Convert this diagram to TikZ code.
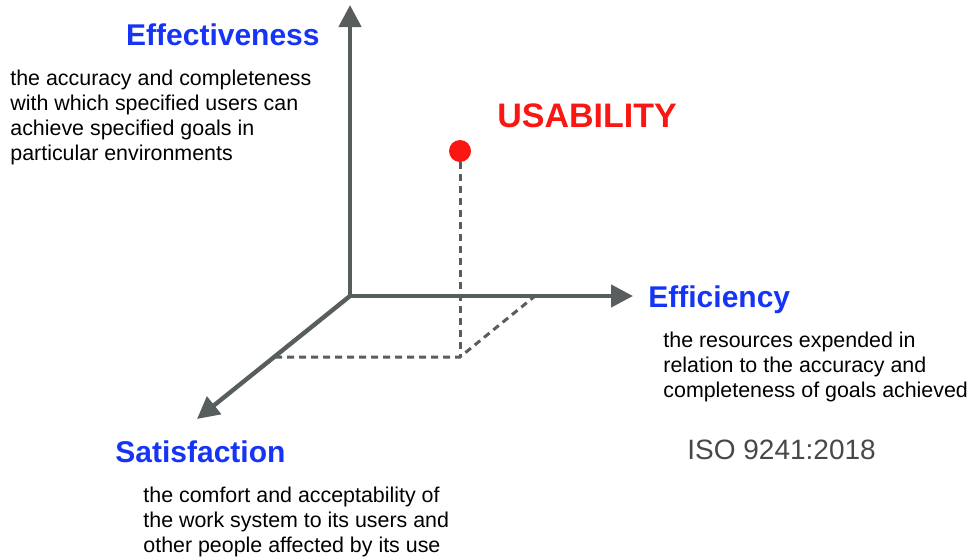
\documentclass[tikz,border=0pt]{standalone}
\usepackage{fontspec}
\setmainfont{Liberation Sans}
\usepackage{xcolor}
\usepackage{tikz}
\usetikzlibrary{arrows.meta}
\definecolor{axisgray}{RGB}{88,93,94}
\definecolor{headblue}{RGB}{22,52,245}
\definecolor{usared}{RGB}{250,22,18}
\definecolor{isogray}{RGB}{72,72,72}

\begin{document}
\begin{tikzpicture}[x=0.5pt,y=-0.5pt,
  axis/.style={draw=axisgray,line width=2.2pt,-{Triangle[length=11pt,width=11pt]}},
  proj/.style={draw=axisgray,line width=1.5pt,dash pattern=on 3.5pt off 2.5pt},
  head/.style={inner sep=0pt,text=headblue,font=\fontsize{15}{18}\selectfont\bfseries},
  desc/.style={inner sep=0pt,align=left,anchor=north west,font=\fontsize{10.7}{12.5}\selectfont}]
\useasboundingbox (0,0) rectangle (967,558);
\coordinate (O) at (350,296);
\coordinate (up) at (350,5);
\coordinate (right) at (633,296);
\coordinate (left) at (197,419);
\coordinate (foot) at (460,357);
\coordinate (back) at (275,357);
\coordinate (side) at (535,296);
\draw[proj] (back) -- (foot) -- (side);
\draw[axis] (O) -- (up);
\draw[axis] (O) -- (right);
\draw[axis] (O) -- (left);
\node[circle,fill=usared,inner sep=0pt,minimum size=11pt] (U) at (460,151) {};
\draw[proj] (U) -- (foot);
\node[head,anchor=base east] (eff) at (320,45) {Effectiveness};
\node[desc] (effd) at (10,70) {the accuracy and completeness\\with which specified users can\\achieve specified goals in\\particular environments};
\node[inner sep=0pt,anchor=base west,text=usared,font=\fontsize{17}{20}\selectfont\bfseries] (usa) at (497,127) {USABILITY};
\node[head,anchor=base west] (effi) at (648,307) {Efficiency};
\node[desc] (effid) at (663,332) {the resources expended in\\relation to the accuracy and\\completeness of goals achieved};
\node[head,anchor=base west] (sat) at (115,462) {Satisfaction};
\node[desc] (satd) at (143,487) {the comfort and acceptability of\\the work system to its users and\\other people affected by its use};
\node[inner sep=0pt,anchor=base west,text=isogray,font=\fontsize{14}{17}\selectfont] (iso) at (687,459) {ISO 9241:2018};
\end{tikzpicture}
\end{document}
